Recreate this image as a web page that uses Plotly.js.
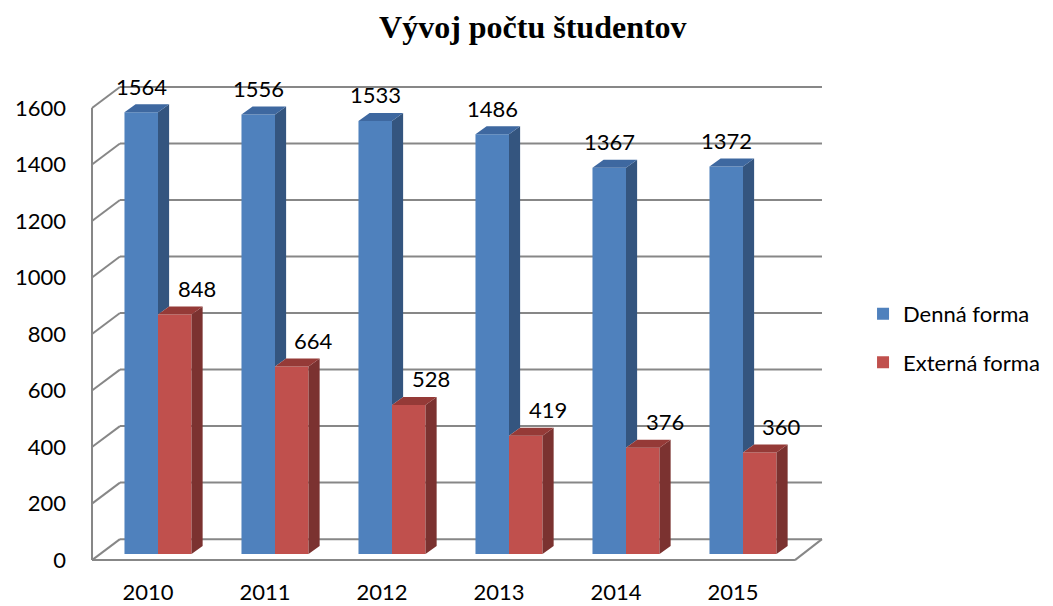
<!DOCTYPE html>
<html>
<head>
<meta charset="utf-8">
<script src="https://cdn.plot.ly/plotly-3.0.1.min.js"></script>
<style>html,body{margin:0;padding:0;background:#fff;}#chart{width:1053px;height:606px;}</style>
</head>
<body>
<div id="chart"></div>
<script>
// ---- data ----
const years = ['2010', '2011', '2012', '2013', '2014', '2015'];
const denna = [1564, 1556, 1533, 1486, 1367, 1372];
const externa = [848, 664, 528, 419, 376, 360];
const yTicks = [0, 200, 400, 600, 800, 1000, 1200, 1400, 1600];
const seriesNames = ['Denná forma', 'Externá forma'];

// ---- style / geometry ----
const FONT = 'Lato, "Open Sans", sans-serif';
const blue = {front: '#4F81BD', side: '#34557F', top: '#3E68A0'};
const red = {front: '#C0504D', side: '#7B3230', top: '#953A37'};
const BW = 0.2865;        // bar width (axis units)
const DX = 0.095;         // depth offset x
const DY = 28.3;          // depth offset y (value units)
const FRONT = -21.2;      // shift of front wall vs bar base
const BACK = 53;          // shift of back wall vs bar base
const XF0 = -0.564, XB0 = -0.325, XF1 = 5.444, XB1 = 5.675;
const XR = [-0.735, 5.829];
const YR = [-35, 1748.5];
const XLAB = 0.0855;

const idx = years.map((_, i) => i);

function poly(list) {
  const x = [], y = [];
  list.forEach(p => { p.forEach(q => { x.push(q[0]); y.push(q[1]); }); x.push(null); y.push(null); });
  return {x, y};
}
function faceTrace(list, color) {
  const p = poly(list);
  return {type: 'scatter', x: p.x, y: p.y, fill: 'toself', fillcolor: color, mode: 'lines',
    line: {width: 0, color: color}, showlegend: false, hoverinfo: 'skip'};
}

// blue faces (side cut by red top)
const blueTop = idx.map(i => { const l = i - BW, r = i, v = denna[i];
  return [[l, v], [l + DX, v + DY], [r + DX, v + DY], [r, v]]; });
const blueSide = idx.map(i => { const r = i, v = denna[i], b = externa[i];
  return [[r, b], [r + DX, b + DY], [r + DX, v + DY], [r, v]]; });
const redTop = idx.map(i => { const l = i, r = i + BW, v = externa[i];
  return [[l, v], [l + DX, v + DY], [r + DX, v + DY], [r, v]]; });
const redSide = idx.map(i => { const r = i + BW, v = externa[i];
  return [[r, 0], [r + DX, DY], [r + DX, v + DY], [r, v]]; });

const traces = [
  {type: 'bar', x: idx, y: denna, name: seriesNames[0], marker: {color: blue.front}, legendgroup: 'a', hoverinfo: 'skip'},
  {type: 'bar', x: idx, y: externa, name: seriesNames[1], marker: {color: red.front}, legendgroup: 'b', hoverinfo: 'skip'},
  faceTrace(blueSide, blue.side),
  faceTrace(blueTop, blue.top),
  faceTrace(redSide, red.side),
  faceTrace(redTop, red.top),
  {type: 'scatter', x: [0], y: [0], xaxis: 'x2', yaxis: 'y2', mode: 'markers', marker: {opacity: 0},
    showlegend: false, hoverinfo: 'skip'}
];

// walls / gridlines
const GRID = {color: '#878787', width: 2};
const shapes = [];
yTicks.forEach(v => {
  shapes.push({type: 'line', xref: 'x', yref: 'y', x0: XB0, x1: XB1, y0: v + BACK, y1: v + BACK, line: GRID, layer: 'below'});
  shapes.push({type: 'line', xref: 'x', yref: 'y', x0: XF0, x1: XB0, y0: v + FRONT, y1: v + BACK, line: GRID, layer: 'below'});
});
shapes.push({type: 'line', xref: 'x', yref: 'y', x0: XF0, x1: XF0, y0: FRONT, y1: yTicks[yTicks.length - 1] + FRONT, line: GRID, layer: 'below'});
shapes.push({type: 'line', xref: 'x', yref: 'y', x0: XF0, x1: XF1, y0: FRONT, y1: FRONT, line: GRID, layer: 'below'});
shapes.push({type: 'line', xref: 'x', yref: 'y', x0: XF1, x1: XB1, y0: FRONT, y1: BACK, line: GRID, layer: 'below'});

// data labels
const labelFont = {family: FONT, size: 22, color: '#000'};
const annotations = [];
idx.forEach(i => {
  annotations.push({xref: 'x', yref: 'y', x: i - BW / 2, y: denna[i], text: String(denna[i]), showarrow: false,
    yshift: 26, font: labelFont});
  annotations.push({xref: 'x', yref: 'y', x: i + BW / 2, y: externa[i], text: String(externa[i]), showarrow: false,
    yshift: 26, xshift: 22, font: labelFont});
});

const layout = {
  width: 1053, height: 606,
  margin: {l: 72, r: 213, t: 60, b: 42, autoexpand: false},
  paper_bgcolor: '#fff', plot_bgcolor: 'rgba(0,0,0,0)',
  title: {text: 'Vývoj počtu študentov', xref: 'container', x: 0.506, y: 0.955, yanchor: 'middle',
    font: {family: '"Liberation Serif", serif', size: 32, weight: 'bold', color: '#000'}},
  barmode: 'group', bargap: 1 - 2 * BW, bargroupgap: 0,
  hovermode: false,
  showlegend: true,
  legend: {x: 1.03, xanchor: 'left', y: 0.538, yanchor: 'top', traceorder: 'grouped', tracegroupgap: 17,
    font: {family: FONT, size: 22, color: '#000'}, bgcolor: 'rgba(0,0,0,0)'},
  xaxis: {range: XR, showgrid: false, zeroline: false, showline: false, showticklabels: false, fixedrange: true},
  yaxis: {range: YR, showgrid: false, zeroline: false, showline: false, showticklabels: false, fixedrange: true},
  xaxis2: {overlaying: 'x', anchor: 'y', side: 'bottom', range: [XR[0] + XLAB, XR[1] + XLAB],
    tickmode: 'array', tickvals: idx, ticktext: years, showgrid: false, zeroline: false, showline: false,
    ticks: '', ticklabelstandoff: 13, tickfont: {family: FONT, size: 22, color: '#000'}, fixedrange: true},
  yaxis2: {overlaying: 'y', anchor: 'x', side: 'left', range: [YR[0] - FRONT, YR[1] - FRONT],
    tickmode: 'array', tickvals: yTicks, ticktext: yTicks.map(String), showgrid: false, zeroline: false, showline: false,
    ticks: '', ticklabelstandoff: 5, tickfont: {family: FONT, size: 22, color: '#000'}, fixedrange: true},
  shapes: shapes,
  annotations: annotations
};

Plotly.newPlot('chart', traces, layout, {displayModeBar: false, staticPlot: true});
</script>
</body>
</html>
